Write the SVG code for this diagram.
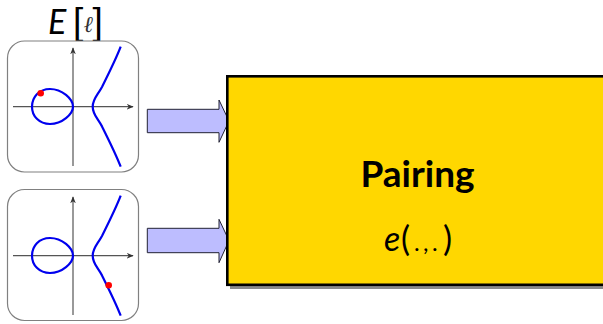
<svg xmlns="http://www.w3.org/2000/svg" width="603" height="324" viewBox="0 0 603 324">
<style>
.panel{fill:#ffffff;stroke:#808080;stroke-width:1.2}
.axis{fill:none;stroke:#555555;stroke-width:1.2}
.curve{fill:none;stroke:#0000ee;stroke-width:2.2;stroke-linejoin:round}
.pt{fill:#ff0000}
.arrow{fill:#bdbdff;stroke:#222233;stroke-width:1}
.box{fill:#ffd700;stroke:#000000;stroke-width:2.6}
.shadow{fill:#8a8a8a}
.title{font-family:Lato,"DejaVu Sans",sans-serif;fill:#000}
.br{font-family:"Liberation Sans",Arial,sans-serif;font-size:37px;font-style:normal}
.lbl{font-family:Lato,"DejaVu Sans",sans-serif;fill:#000}
</style>
<defs>
<marker id="ah" viewBox="0 0 10 10" refX="9" refY="5" markerWidth="7" markerHeight="7" markerUnits="userSpaceOnUse" orient="auto">
<path d="M0,1 L10,5 L0,9 L3,5 Z" fill="#333333"/>
</marker>
<g id="curveproto">
<path class="axis" d="M13,106.7 L133,106.7" marker-end="url(#ah)"/>
<path class="axis" d="M73,166 L73,48" marker-end="url(#ah)"/>
<path class="curve" d="M73,106.7 C73,99 62,89 50,89 C39,89 32,97 32,106.7 C32,116 39,124 50,124 C62,124 73,114 73,106.7 Z"/>
<path class="curve" d="M120.7,46.7 C116,59 108,75 102,87 C97,96 92.7,99 92.7,106.7 C92.7,114.4 97,117.4 102,126.4 C108,138.4 116,154.4 120.7,166.7"/>
</g>
</defs>

<g id="title">
<text class="title" font-size="34"><tspan x="48" y="33.5" font-style="italic">E</tspan><tspan class="br" x="73" y="33.5">[</tspan><tspan x="83.5" y="31.5" font-size="23" font-style="italic" font-family="'DejaVu Serif',serif" fill="#333">ℓ</tspan><tspan class="br" x="92.5" y="33.5">]</tspan></text>
</g>

<g id="panel-top">
<rect class="panel" x="7.5" y="41" width="131" height="131" rx="17" ry="17"/>
<use href="#curveproto"/>
<circle class="pt" cx="40.7" cy="93.3" r="3.3"/>
</g>

<g id="panel-bottom">
<rect class="panel" x="7.5" y="189.5" width="131" height="131" rx="17" ry="17"/>
<use href="#curveproto" transform="translate(0,149)"/>
<circle class="pt" cx="108.7" cy="285.3" r="3.3"/>
</g>

<g id="connectors">
<path class="arrow" d="M147.3,109.3 L219,109.3 L219,100 L229,121 L219,142.3 L219,132.7 L147.3,132.7 Z"/>
<path class="arrow" d="M147.3,228.3 L219,228.3 L219,219.3 L229,240.5 L219,262.7 L219,252.7 L147.3,252.7 Z"/>
</g>

<g id="pairing">
<rect class="shadow" x="230" y="79" width="380" height="210"/>
<rect class="box" x="227.3" y="76.3" width="380" height="208.5"/>
<text class="lbl" x="417.5" y="187" font-size="37" font-weight="bold" text-anchor="middle">Pairing</text>
<text class="lbl" y="251" font-size="34"><tspan x="384" font-style="italic">e</tspan><tspan x="401">(</tspan><tspan x="414" font-size="24">.</tspan><tspan x="423" font-size="24">,</tspan><tspan x="432" font-size="24">.</tspan><tspan x="443">)</tspan></text>
</g>
</svg>
